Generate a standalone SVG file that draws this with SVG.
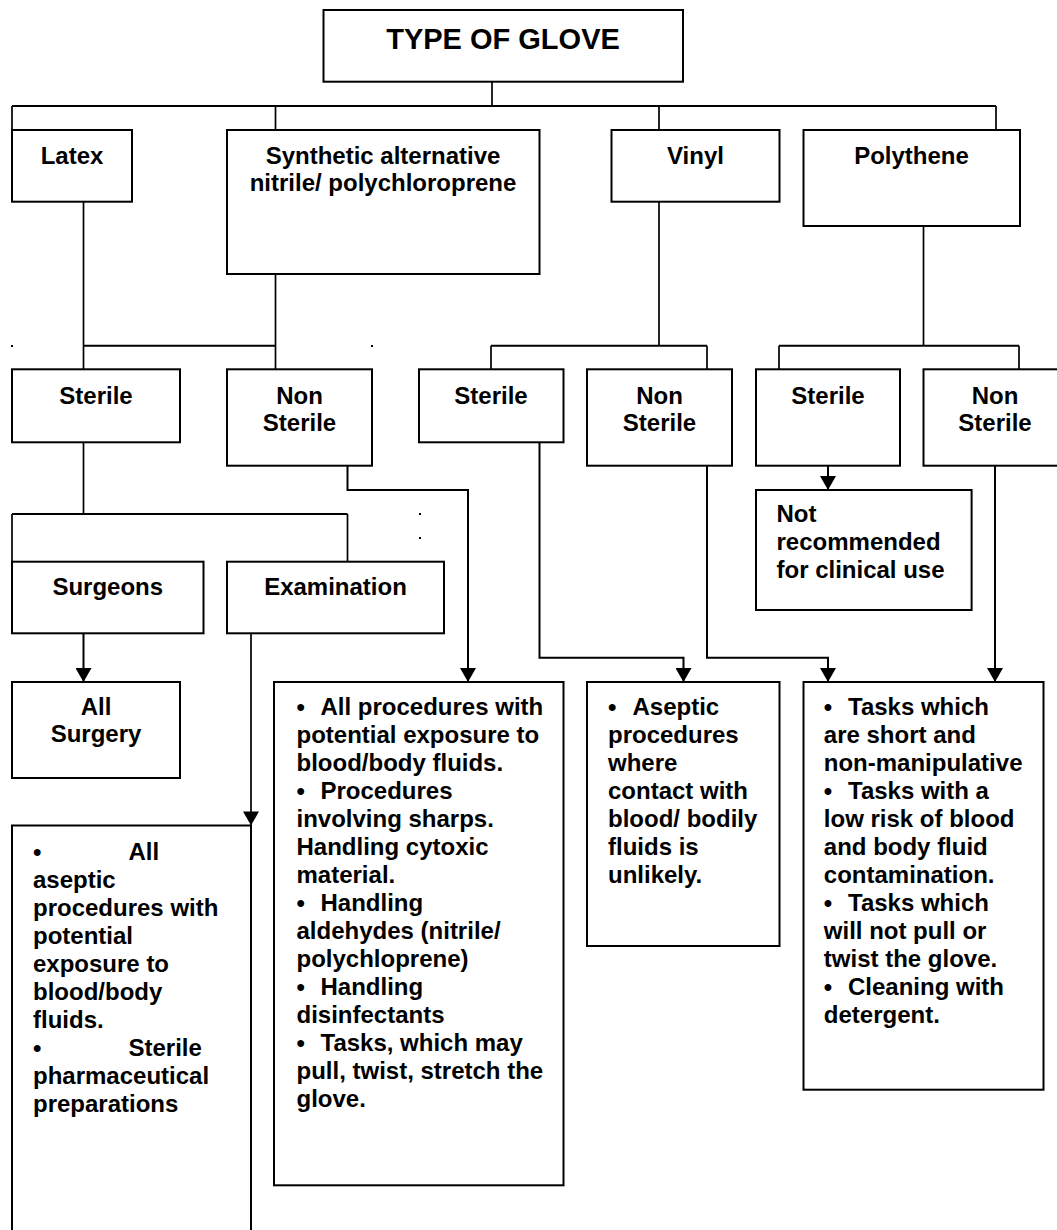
<svg xmlns="http://www.w3.org/2000/svg" width="1057" height="1230" viewBox="0 0 1057 1230">
<style>
  .box{fill:#fff;stroke:#000;stroke-width:2}
  .c{fill:none;stroke:#000;stroke-width:1.7}
  .a{fill:none;stroke:#000;stroke-width:2}
  text{font-family:"Liberation Sans",Arial,sans-serif;font-weight:bold;font-size:24px;fill:#000}
  .m{text-anchor:middle}
  .t{font-size:29px}
</style>
<defs>
  <marker id="arr" viewBox="0 0 14 16" refX="14" refY="8" markerWidth="14" markerHeight="16" markerUnits="userSpaceOnUse" orient="auto">
    <path d="M0,0 L14,8 L0,16 z" fill="#000"/>
  </marker>
</defs>
<rect width="1057" height="1230" fill="#fff"/>

<g id="connectors">
  <path class="c" d="M492,81.7 V106"/>
  <path class="a" d="M12,106 H996"/>
  <path class="c" d="M12,106 V130 M275.5,106 V130 M659,106 V130 M996,106 V130"/>
  <path class="c" d="M83.5,201.7 V369.3 M275.5,274 V369.3"/>
  <path class="a" d="M83.5,345.7 H275.5"/>
  <path class="c" d="M659,201.7 V345.7 M491,345.7 V369.3 M707,345.7 V369.3"/>
  <path class="a" d="M491,345.7 H707"/>
  <path class="c" d="M923.5,226 V345.7 M779,345.7 V369.3 M1019,345.7 V369.3"/>
  <path class="a" d="M779,345.7 H1019"/>
  <path class="c" d="M83.5,442.3 V514 M12,514 V561.7 M347.5,514 V561.7"/>
  <path class="a" d="M12,514 H347.5"/>
  <path class="a" d="M83.5,633.3 V682" marker-end="url(#arr)"/>
  <path class="c" d="M251,633.3 V825.4" marker-end="url(#arr)"/>
  <path class="a" d="M347.5,465.7 V490 H468 V682" marker-end="url(#arr)"/>
  <path class="a" d="M539.5,442.3 V657.7 H683.5 V682" marker-end="url(#arr)"/>
  <path class="a" d="M707,465.7 V657.7 H828 V682" marker-end="url(#arr)"/>
  <path class="a" d="M828,465.7 V490" marker-end="url(#arr)"/>
  <path class="a" d="M995,465.7 V682" marker-end="url(#arr)"/>
  <rect x="11" y="345" width="2" height="2" fill="#000"/>
  <rect x="371" y="345" width="2" height="2" fill="#000"/>
  <rect x="419" y="513" width="2" height="2" fill="#000"/>
  <rect x="419" y="537" width="2" height="2" fill="#000"/>
</g>

<g id="type-of-glove">
  <rect class="box" x="323.5" y="10" width="359.5" height="71.7"/>
  <text class="m t" x="503" y="49">TYPE OF GLOVE</text>
</g>
<g id="latex">
  <rect class="box" x="12" y="130" width="120" height="71.7"/>
  <text class="m" x="72" y="164">Latex</text>
</g>
<g id="synthetic">
  <rect class="box" x="227" y="130" width="312.5" height="144"/>
  <text class="m" x="383" y="163.5">Synthetic alternative</text>
  <text class="m" x="383" y="191">nitrile/ polychloroprene</text>
</g>
<g id="vinyl">
  <rect class="box" x="611.5" y="130" width="168" height="71.7"/>
  <text class="m" x="695.5" y="164">Vinyl</text>
</g>
<g id="polythene">
  <rect class="box" x="803.5" y="130" width="216.5" height="96"/>
  <text class="m" x="911.5" y="164">Polythene</text>
</g>

<g id="latex-sterile">
  <rect class="box" x="12" y="369.3" width="168" height="73"/>
  <text class="m" x="96" y="404">Sterile</text>
</g>
<g id="synthetic-non-sterile">
  <rect class="box" x="227" y="369.3" width="145" height="96.4"/>
  <text class="m" x="299.5" y="404">Non</text>
  <text class="m" x="299.5" y="431">Sterile</text>
</g>
<g id="vinyl-sterile">
  <rect class="box" x="419" y="369.3" width="144.5" height="73"/>
  <text class="m" x="491" y="404">Sterile</text>
</g>
<g id="vinyl-non-sterile">
  <rect class="box" x="587" y="369.3" width="145" height="96.4"/>
  <text class="m" x="659.5" y="404">Non</text>
  <text class="m" x="659.5" y="431">Sterile</text>
</g>
<g id="polythene-sterile">
  <rect class="box" x="756" y="369.3" width="144" height="96.4"/>
  <text class="m" x="828" y="404">Sterile</text>
</g>
<g id="polythene-non-sterile">
  <rect class="box" x="923.5" y="369.3" width="143" height="96.4"/>
  <text class="m" x="995" y="404">Non</text>
  <text class="m" x="995" y="431">Sterile</text>
</g>

<g id="not-recommended">
  <rect class="box" x="756" y="490" width="215.6" height="120"/>
  <text x="776.5" y="522.3">Not</text>
  <text x="776.5" y="549.9">recommended</text>
  <text x="776.5" y="577.5">for clinical use</text>
</g>

<g id="surgeons">
  <rect class="box" x="12" y="561.7" width="191.5" height="71.6"/>
  <text class="m" x="107.75" y="595">Surgeons</text>
</g>
<g id="examination">
  <rect class="box" x="227" y="561.7" width="217" height="71.6"/>
  <text class="m" x="335.5" y="595">Examination</text>
</g>

<g id="all-surgery">
  <rect class="box" x="12" y="682" width="168" height="96"/>
  <text class="m" x="96" y="714.5">All</text>
  <text class="m" x="96" y="742">Surgery</text>
</g>

<g id="examination-uses">
  <path class="box" d="M12,1232 V825.4 H251 V1232"/>
  <text x="33" y="860">•<tspan x="128.5">All</tspan></text>
  <text x="33" y="888">aseptic</text>
  <text x="33" y="916">procedures with</text>
  <text x="33" y="944">potential</text>
  <text x="33" y="972">exposure to</text>
  <text x="33" y="1000">blood/body</text>
  <text x="33" y="1028">fluids.</text>
  <text x="33" y="1056">•<tspan x="128.5">Sterile</tspan></text>
  <text x="33" y="1084">pharmaceutical</text>
  <text x="33" y="1112">preparations</text>
</g>

<g id="non-sterile-uses">
  <rect class="box" x="274" y="682" width="289.5" height="503.3"/>
  <text x="296.5" y="715">•<tspan x="320.5">All procedures with</tspan></text>
  <text x="296.5" y="743">potential exposure to</text>
  <text x="296.5" y="771">blood/body fluids.</text>
  <text x="296.5" y="799">•<tspan x="320.5">Procedures</tspan></text>
  <text x="296.5" y="827">involving sharps.</text>
  <text x="296.5" y="855">Handling cytoxic</text>
  <text x="296.5" y="883">material.</text>
  <text x="296.5" y="911">•<tspan x="320.5">Handling</tspan></text>
  <text x="296.5" y="939">aldehydes (nitrile/</text>
  <text x="296.5" y="967">polychloprene)</text>
  <text x="296.5" y="995">•<tspan x="320.5">Handling</tspan></text>
  <text x="296.5" y="1023">disinfectants</text>
  <text x="296.5" y="1051">•<tspan x="320.5">Tasks, which may</tspan></text>
  <text x="296.5" y="1079">pull, twist, stretch the</text>
  <text x="296.5" y="1107">glove.</text>
</g>

<g id="vinyl-sterile-uses">
  <rect class="box" x="587" y="682" width="192.5" height="264"/>
  <text x="608" y="715">•<tspan x="632.5">Aseptic</tspan></text>
  <text x="608" y="743">procedures</text>
  <text x="608" y="771">where</text>
  <text x="608" y="799">contact with</text>
  <text x="608" y="827">blood/ bodily</text>
  <text x="608" y="855">fluids is</text>
  <text x="608" y="883">unlikely.</text>
</g>

<g id="non-sterile-tasks">
  <rect class="box" x="803.5" y="682" width="240" height="407.7"/>
  <text x="823.8" y="715">•<tspan x="848">Tasks which</tspan></text>
  <text x="823.8" y="743">are short and</text>
  <text x="823.8" y="771">non-manipulative</text>
  <text x="823.8" y="799">•<tspan x="848">Tasks with a</tspan></text>
  <text x="823.8" y="827">low risk of blood</text>
  <text x="823.8" y="855">and body fluid</text>
  <text x="823.8" y="883">contamination.</text>
  <text x="823.8" y="911">•<tspan x="848">Tasks which</tspan></text>
  <text x="823.8" y="939">will not pull or</text>
  <text x="823.8" y="967">twist the glove.</text>
  <text x="823.8" y="995">•<tspan x="848">Cleaning with</tspan></text>
  <text x="823.8" y="1023">detergent.</text>
</g>
</svg>
